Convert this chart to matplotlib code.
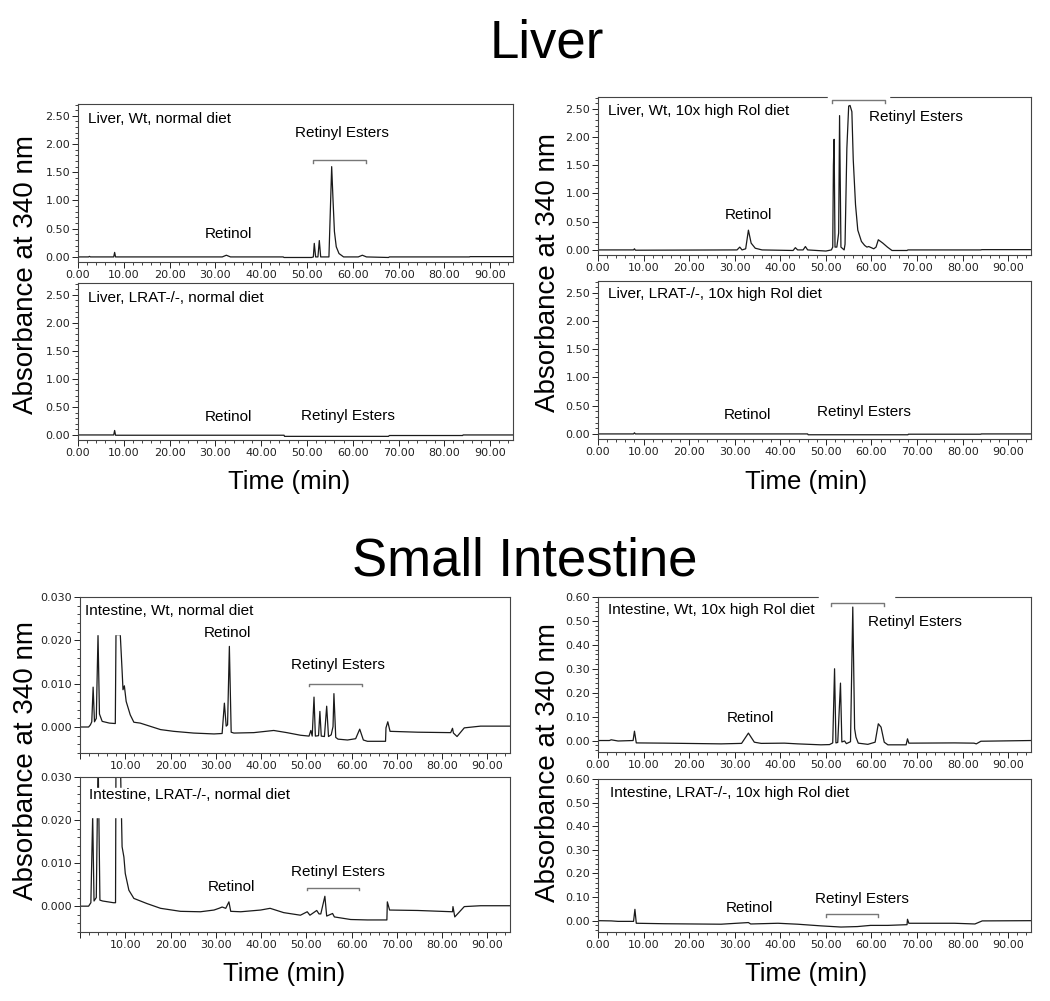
import matplotlib.pyplot as plt
from matplotlib.ticker import MultipleLocator, AutoMinorLocator, FuncFormatter
from matplotlib.patches import Rectangle

plt.rcParams['font.family'] = ['Liberation Sans', 'DejaVu Sans']

# ---- chromatogram traces (time in min, absorbance at 340 nm) ----
liver_wt_normal_t = [0, 2.3, 2.5, 2.7, 7.8, 8.0, 8.2, 31.5, 32.4, 33.3, 44.8, 45.0, 51.0, 51.4,
                     51.6, 51.9, 52.4, 52.7, 53.0, 54.8, 55.1, 55.4, 55.7, 56.0, 56.4, 57.0, 58.0,
                     61.2, 62.1, 63.0, 67.8, 68.0, 85.5, 85.6, 95]
liver_wt_normal_y = [0, 0, 0.01, 0, 0, 0.08, 0, 0, 0.03, 0, 0, -0.01, -0.01, 0.0,
                     0.24, 0.0, 0.0, 0.29, 0.0, 0.0, 0.8, 1.6, 1.0, 0.45, 0.18, 0.06, 0.0,
                     0.0, 0.03, 0.0, -0.01, 0.0, 0.0, 0.005, 0.005]

liver_ko_normal_t = [0, 2.5, 7.8, 8.0, 8.2, 45.0, 45.1, 67.8, 68.0, 84.0, 84.1, 95]
liver_ko_normal_y = [0, 0, 0, 0.08, -0.005, -0.005, -0.025, -0.025, -0.01, -0.01, 0, 0]

liver_wt_high_t = [0, 7.8, 8.0, 8.2, 30.5, 31.1, 31.6, 32.4, 33.0, 33.6, 34.5, 36.0, 42.8, 43.3,
                   43.8, 45.0, 45.5, 46.0, 50.0, 51.2, 51.5, 51.65, 51.8, 52.0, 52.4, 52.8, 53.0,
                   53.3, 54.0, 54.2, 54.6, 55.0, 55.3, 55.7, 56.0, 56.5, 57.0, 57.8, 58.5, 59.0,
                   59.4, 60.5, 61.0, 61.5, 62.5, 63.5, 64.5, 67.8, 68.0, 84.0, 84.2, 95]
liver_wt_high_y = [0, 0, 0.02, -0.005, 0, 0.05, 0.0, 0.02, 0.35, 0.12, 0.03, 0.0, -0.01, 0.04,
                   0.0, 0.0, 0.06, 0.0, -0.02, 0.0, 0.05, 1.5, 1.96, 0.05, 0.05, 0.3, 2.38,
                   0.05, 0.0, 0.1, 1.8, 2.55, 2.56, 2.45, 1.6, 0.8, 0.35, 0.15, 0.08, 0.05,
                   0.06, 0.02, 0.05, 0.18, 0.12, 0.05, -0.01, -0.01, 0.0, 0.0, 0.005, 0.005]

liver_ko_high_t = [0, 7.8, 8.0, 8.2, 46.0, 46.1, 68.0, 68.1, 84.0, 84.1, 95]
liver_ko_high_y = [0, 0, 0.02, 0, 0, -0.015, -0.015, -0.005, -0.005, 0, 0]

int_wt_normal_t = [0, 1.9, 2.3, 2.6, 2.9, 3.2, 3.6, 3.98, 4.3, 4.9, 6.5, 7.8, 7.95, 8.2, 8.9,
                   9.3, 9.5, 9.8, 10.2, 11.1, 11.9, 13.3, 14.8, 17.8, 20.7, 25.1, 29.6, 31.4,
                   31.9, 32.3, 32.6, 33.0, 33.4, 34.0, 38.4, 42.8, 45.7, 48.7, 50.6, 51.0, 51.3,
                   51.7, 52.0, 52.7, 53.0, 53.3, 54.0, 54.5, 54.9, 55.5, 55.9, 56.1, 56.5, 57.0,
                   59.1, 60.9, 61.8, 62.6, 63.5, 67.5, 67.6, 68.0, 68.5, 74.6, 81.9, 82.3, 82.5,
                   83.3, 84.9, 88.5, 95]
int_wt_normal_y = [0, 0, 0.0005, 0.0012, 0.0092, 0.0012, 0.002, 0.0213, 0.003, 0.0013, 0.0009,
                   0.0008, 0.0213, 0.0213, 0.0213, 0.013, 0.0086, 0.0095, 0.0059, 0.0028, 0.0011,
                   0.0009, 0.0004, -0.0006, -0.001, -0.0014, -0.0016, -0.0015, 0.0055, 0.0002,
                   0.0005, 0.0186, -0.0012, -0.0014, -0.0013, -0.0008, -0.0013, -0.0019, -0.0021,
                   -0.0008, -0.0021, 0.0069, -0.0021, -0.002, 0.0036, -0.0021, -0.0022, 0.0048,
                   -0.0022, -0.0018, 0.0001, 0.0077, -0.0024, -0.0028, -0.003, -0.0027, -0.0005,
                   -0.003, -0.0033, -0.0033, -0.0002, 0.0012, -0.001, -0.0012, -0.0013, -0.0003,
                   -0.0014, -0.0022, -0.0002, 0.0002, 0.0002]

int_ko_normal_t = [0, 1.9, 2.4, 2.8, 3.1, 3.6, 4.0, 4.4, 5.0, 7.4, 7.85, 7.95, 8.3, 8.9, 9.3,
                   9.7, 10.0, 10.8, 11.9, 14.8, 17.8, 22.2, 26.6, 29.6, 30.7, 31.4, 32.2, 32.9,
                   33.3, 35.5, 39.9, 42.0, 45.0, 48.7, 50.2, 50.8, 52.3, 52.8, 53.2, 54.1, 54.5,
                   55.8, 56.2, 59.8, 63.5, 67.8, 67.9, 68.4, 74.6, 82.3, 82.4, 82.8, 84.9, 88.5, 95]
int_ko_normal_y = [0, 0, 0.0008, 0.021, 0.0012, 0.002, 0.035, 0.0014, 0.0012, 0.0008, 0.0008,
                   0.035, 0.035, 0.035, 0.0138, 0.0114, 0.0076, 0.0037, 0.0018, 0.0006, -0.0005,
                   -0.0012, -0.0013, -0.0009, -0.0005, -0.0002, -0.0005, 0.001, -0.0012, -0.0013,
                   -0.0009, -0.0005, -0.0015, -0.0021, -0.0013, -0.0021, -0.001, -0.0018, -0.0018,
                   0.0023, -0.0023, -0.0017, -0.0025, -0.0031, -0.0032, -0.0032, 0.001, -0.0009,
                   -0.001, -0.0013, -0.0001, -0.0025, -0.0001, 0.0001, 0.0001]

int_wt_high_t = [0, 2.5, 2.9, 4.4, 7.7, 8.0, 8.4, 14.6, 27.0, 31.5, 33.0, 34.3, 35.8, 40.9,
                 43.8, 48.9, 50.8, 51.5, 51.9, 52.2, 52.6, 53.2, 53.5, 54.1, 54.5, 55.4, 55.9,
                 56.3, 56.6, 57.1, 59.2, 60.8, 61.5, 62.1, 62.8, 63.6, 67.6, 67.9, 68.2, 78.2,
                 82.5, 83.0, 84.0, 95]
int_wt_high_y = [0, 0, 0.003, -0.002, 0, 0.039, -0.01, -0.011, -0.014, -0.012, 0.031, -0.007,
                 -0.012, -0.011, -0.014, -0.018, -0.017, -0.01, 0.30, -0.01, -0.008, 0.24, -0.006,
                 -0.002, -0.013, -0.005, 0.558, 0.05, 0.014, -0.011, -0.016, -0.007, 0.07, 0.056,
                 -0.007, -0.018, -0.018, 0.007, -0.011, -0.01, -0.011, -0.014, -0.003, 0.0]

int_ko_high_t = [0, 2.9, 4.4, 7.8, 8.1, 8.4, 14.6, 27.0, 33.0, 33.5, 39.5, 43.8, 48.9, 53.3,
                 56.9, 59.8, 63.6, 67.8, 67.9, 68.2, 78.2, 82.7, 84.3, 95]
int_ko_high_y = [0, -0.001, -0.003, -0.003, 0.048, -0.011, -0.013, -0.015, -0.008, -0.014,
                 -0.011, -0.015, -0.022, -0.027, -0.025, -0.02, -0.02, -0.017, 0.006, -0.011,
                 -0.011, -0.014, -0.001, 0.0]

W, H = 1050, 1001
fig = plt.figure(figsize=(W / 100, H / 100), dpi=100)


def px_axes(l, t, r, b):
    return fig.add_axes([l / W, 1 - b / H, (r - l) / W, (b - t) / H])


def draw_panel(ax, t, y, ylim, ystep, ydec, label, retinol, esters, bracket=None,
               hide_zero=False, gap=None):
    ax.plot(t, y, color='#1a1a1a', lw=0.9, zorder=2)
    ax.set_xlim(0, 95)
    ax.set_ylim(*ylim)
    ax.xaxis.set_major_locator(MultipleLocator(10))
    ax.xaxis.set_minor_locator(AutoMinorLocator(5))
    ax.yaxis.set_major_locator(MultipleLocator(ystep))
    ax.yaxis.set_minor_locator(AutoMinorLocator(5))
    ax.xaxis.set_major_formatter(FuncFormatter(
        lambda v, p: '' if (hide_zero and abs(v) < 1e-9) else '%.2f' % v))
    ax.yaxis.set_major_formatter(FuncFormatter(lambda v, p: '%.*f' % (ydec, v)))
    ax.tick_params(which='major', length=4, width=0.7, labelsize=8, pad=1.5, colors='#222')
    ax.tick_params(which='minor', length=2, width=0.6, colors='#222')
    for lab in ax.get_xticklabels() + ax.get_yticklabels():
        lab.set_family('DejaVu Sans')
    for s in ax.spines.values():
        s.set_color('#444')
        s.set_linewidth(0.8)
    ax.text(label[0], label[1], label[2], fontsize=11, va='center', ha='left', zorder=5)
    ax.text(retinol[0], retinol[1], 'Retinol', fontsize=11, va='center', ha='center')
    ax.text(esters[0], esters[1], 'Retinyl Esters', fontsize=11, va='center', ha='center')
    if gap is not None:
        ax.plot(gap, [ylim[1], ylim[1]], color='white', lw=2.5, clip_on=False, zorder=6)
    if bracket is not None:
        x0, x1, yb, d = bracket
        ax.plot([x0, x0, x1, x1], [yb - d, yb, yb, yb - d], color='#777', lw=1,
                clip_on=False, zorder=7)


liver_lim = (-0.09, 2.71)
int_lim = (-0.006, 0.030)
high_lim = (-0.048, 0.60)

axA = px_axes(78, 104, 513, 262)
draw_panel(axA, liver_wt_normal_t, liver_wt_normal_y, liver_lim, 0.5, 2,
           (2.2, 2.45, 'Liver, Wt, normal diet'), (32.8, 0.40), (57.7, 2.2),
           bracket=(51.4, 62.8, 1.71, 0.05))
axB = px_axes(78, 283, 513, 440)
draw_panel(axB, liver_ko_normal_t, liver_ko_normal_y, liver_lim, 0.5, 2,
           (2.2, 2.45, 'Liver, LRAT-/-, normal diet'), (32.8, 0.32), (59.0, 0.34))

axC = px_axes(598, 97, 1031, 255)
draw_panel(axC, liver_wt_high_t, liver_wt_high_y, liver_lim, 0.5, 2,
           (2.3, 2.46, 'Liver, Wt, 10x high Rol diet'), (33.0, 0.61), (69.7, 2.35),
           bracket=(51.3, 62.9, 2.66, 0.05), gap=(50.6, 63.6))
axD = px_axes(598, 281, 1031, 439)
draw_panel(axD, liver_ko_high_t, liver_ko_high_y, liver_lim, 0.5, 2,
           (2.2, 2.48, 'Liver, LRAT-/-, 10x high Rol diet'), (32.8, 0.34), (58.4, 0.38))

axE = px_axes(80, 597, 510, 753)
draw_panel(axE, int_wt_normal_t, int_wt_normal_y, int_lim, 0.01, 3,
           (1.0, 0.0267, 'Intestine, Wt, normal diet'), (32.5, 0.0217), (56.9, 0.0142),
           bracket=(50.6, 62.2, 0.0099, 0.0005), hide_zero=True)
axE.add_patch(Rectangle((0.5, 0.0214), 9.4, 0.0062, color='white', zorder=3))
axF = px_axes(80, 777, 510, 932)
draw_panel(axF, int_ko_normal_t, int_ko_normal_y, int_lim, 0.01, 3,
           (1.9, 0.0259, 'Intestine, LRAT-/-, normal diet'), (33.5, 0.0045), (56.9, 0.0080),
           bracket=(50.1, 61.7, 0.0042, 0.0005), hide_zero=True)
axF.add_patch(Rectangle((2.1, 0.0207), 8.3, 0.0068, color='white', zorder=3))

axG = px_axes(598, 597, 1031, 752)
draw_panel(axG, int_wt_high_t, int_wt_high_y, high_lim, 0.1, 2,
           (2.3, 0.544, 'Intestine, Wt, 10x high Rol diet'), (33.4, 0.095), (69.6, 0.495),
           bracket=(51.1, 62.7, 0.575, 0.012), gap=(48.7, 64.8))
axH = px_axes(598, 779, 1031, 932)
draw_panel(axH, int_ko_high_t, int_ko_high_y, high_lim, 0.1, 2,
           (2.6, 0.54, 'Intestine, LRAT-/-, 10x high Rol diet'), (33.3, 0.055), (57.8, 0.093),
           bracket=(50.0, 61.4, 0.027, 0.012))

# section titles and shared axis labels
fig.text(547 / W, 1 - 57 / H, 'Liver', fontsize=38, ha='center', va='baseline')
fig.text(525 / W, 1 - 576 / H, 'Small Intestine', fontsize=38, ha='center', va='baseline')
for xc, yb in [(289, 489), (806, 489), (284, 981), (806, 981)]:
    fig.text(xc / W, 1 - yb / H, 'Time (min)', fontsize=18.5, ha='center', va='baseline')
for xc, yc in [(26, 274), (548, 272), (26, 761), (548, 763)]:
    fig.text(xc / W, 1 - yc / H, 'Absorbance at 340 nm', fontsize=20, rotation=90,
             ha='center', va='center')

fig.savefig('out.png', dpi=100)
